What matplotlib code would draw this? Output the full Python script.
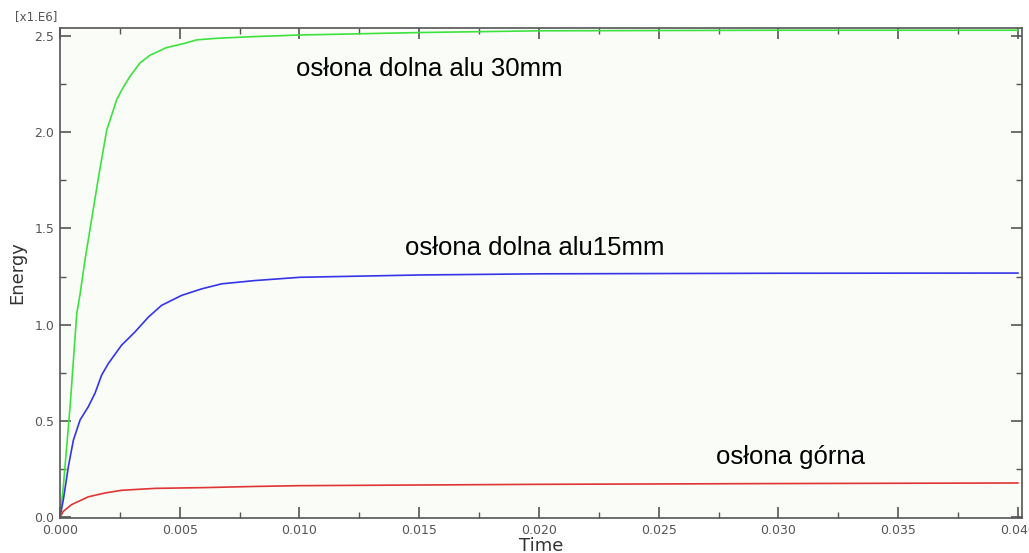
import numpy as np
import matplotlib
matplotlib.use("Agg")
import matplotlib.pyplot as plt
from matplotlib.ticker import MultipleLocator, FormatStrFormatter

# ──────────────────────────────────────────────
# dane (Energy w jednostkach 1e6)
t_30 = [0.0, 0.00014, 0.00028, 0.00042, 0.00056, 0.0007, 0.00084, 0.00104, 0.00118,
        0.00139, 0.00160, 0.00181, 0.00195, 0.00216, 0.00237, 0.00258, 0.00292,
        0.00334, 0.00376, 0.00445, 0.00515, 0.00571, 0.00654, 0.00793, 0.00995,
        0.015, 0.02, 0.03, 0.04]
e_30 = [0.0, 0.16, 0.366, 0.573, 0.815, 1.057, 1.16, 1.333, 1.44,
        1.60, 1.76, 1.91, 2.011, 2.09, 2.17, 2.22, 2.29,
        2.36, 2.40, 2.44, 2.46, 2.48, 2.488, 2.496, 2.505,
        2.518, 2.527, 2.53, 2.53]

t_15 = [0.0, 0.00014, 0.00035, 0.00056, 0.00084, 0.00118, 0.00146, 0.00174, 0.00202,
        0.00257, 0.00313, 0.00369, 0.00424, 0.00508, 0.00592, 0.00675, 0.00814,
        0.01002, 0.015, 0.02, 0.03, 0.04]
e_15 = [0.0, 0.09, 0.263, 0.40, 0.505, 0.573, 0.643, 0.738, 0.798,
        0.893, 0.962, 1.039, 1.10, 1.152, 1.186, 1.212, 1.229,
        1.246, 1.258, 1.264, 1.267, 1.268]

t_gorna = [0.0, 0.00014, 0.00049, 0.00118, 0.00188, 0.00257, 0.00397, 0.00605,
           0.00814, 0.01, 0.02, 0.03, 0.04]
e_gorna = [0.0, 0.03, 0.065, 0.105, 0.125, 0.139, 0.149, 0.153,
           0.159, 0.163, 0.17, 0.174, 0.177]

labels = ["osłona dolna alu 30mm", "osłona dolna alu15mm", "osłona górna"]
label_pos = [(0.00985, 2.33), (0.0144, 1.397), (0.0274, 0.313)]

# ──────────────────────────────────────────────
fig = plt.figure(figsize=(10.29, 5.53), dpi=100, facecolor="white")
ax = fig.add_axes([60 / 1029, 1 - 518 / 553, 962 / 1029, 490 / 553])
ax.set_facecolor("#fafcf8")

ax.plot(t_30, e_30, color="#3ee23e", lw=1.2)
ax.plot(t_15, e_15, color="#3535e8", lw=1.2)
ax.plot(t_gorna, e_gorna, color="#e03535", lw=1.2)

for txt, (x, y) in zip(labels, label_pos):
    ax.text(x, y, txt, fontsize=18.5, family="Liberation Sans", color="black", va="center")

ax.set_xlim(0.0, 0.04017)
ax.set_ylim(-0.005, 2.5416)
ax.xaxis.set_major_locator(MultipleLocator(0.005))
ax.xaxis.set_minor_locator(MultipleLocator(0.0025))
ax.yaxis.set_major_locator(MultipleLocator(0.5))
ax.yaxis.set_minor_locator(MultipleLocator(0.25))
ax.xaxis.set_major_formatter(FormatStrFormatter("%.3f"))
ax.yaxis.set_major_formatter(FormatStrFormatter("%.1f"))

ax.tick_params(which="both", direction="in", top=True, right=True, color="#555555",
               labelcolor="#555555", labelsize=9)
ax.tick_params(which="major", length=8, width=1.2, pad=4)
ax.tick_params(which="minor", length=4, width=1.0)
for sp in ax.spines.values():
    sp.set_color("#555555")
    sp.set_linewidth(1.2)

ax.set_xlabel("Time", fontsize=13, color="#333333", labelpad=0)
ax.set_ylabel("Energy", fontsize=13, color="#333333", labelpad=6)
fig.text(15 / 1029, 1 - 17 / 553, "[x1.E6]", fontsize=8.5, color="#555555", va="center")

plt.savefig("out.png", dpi=100)
